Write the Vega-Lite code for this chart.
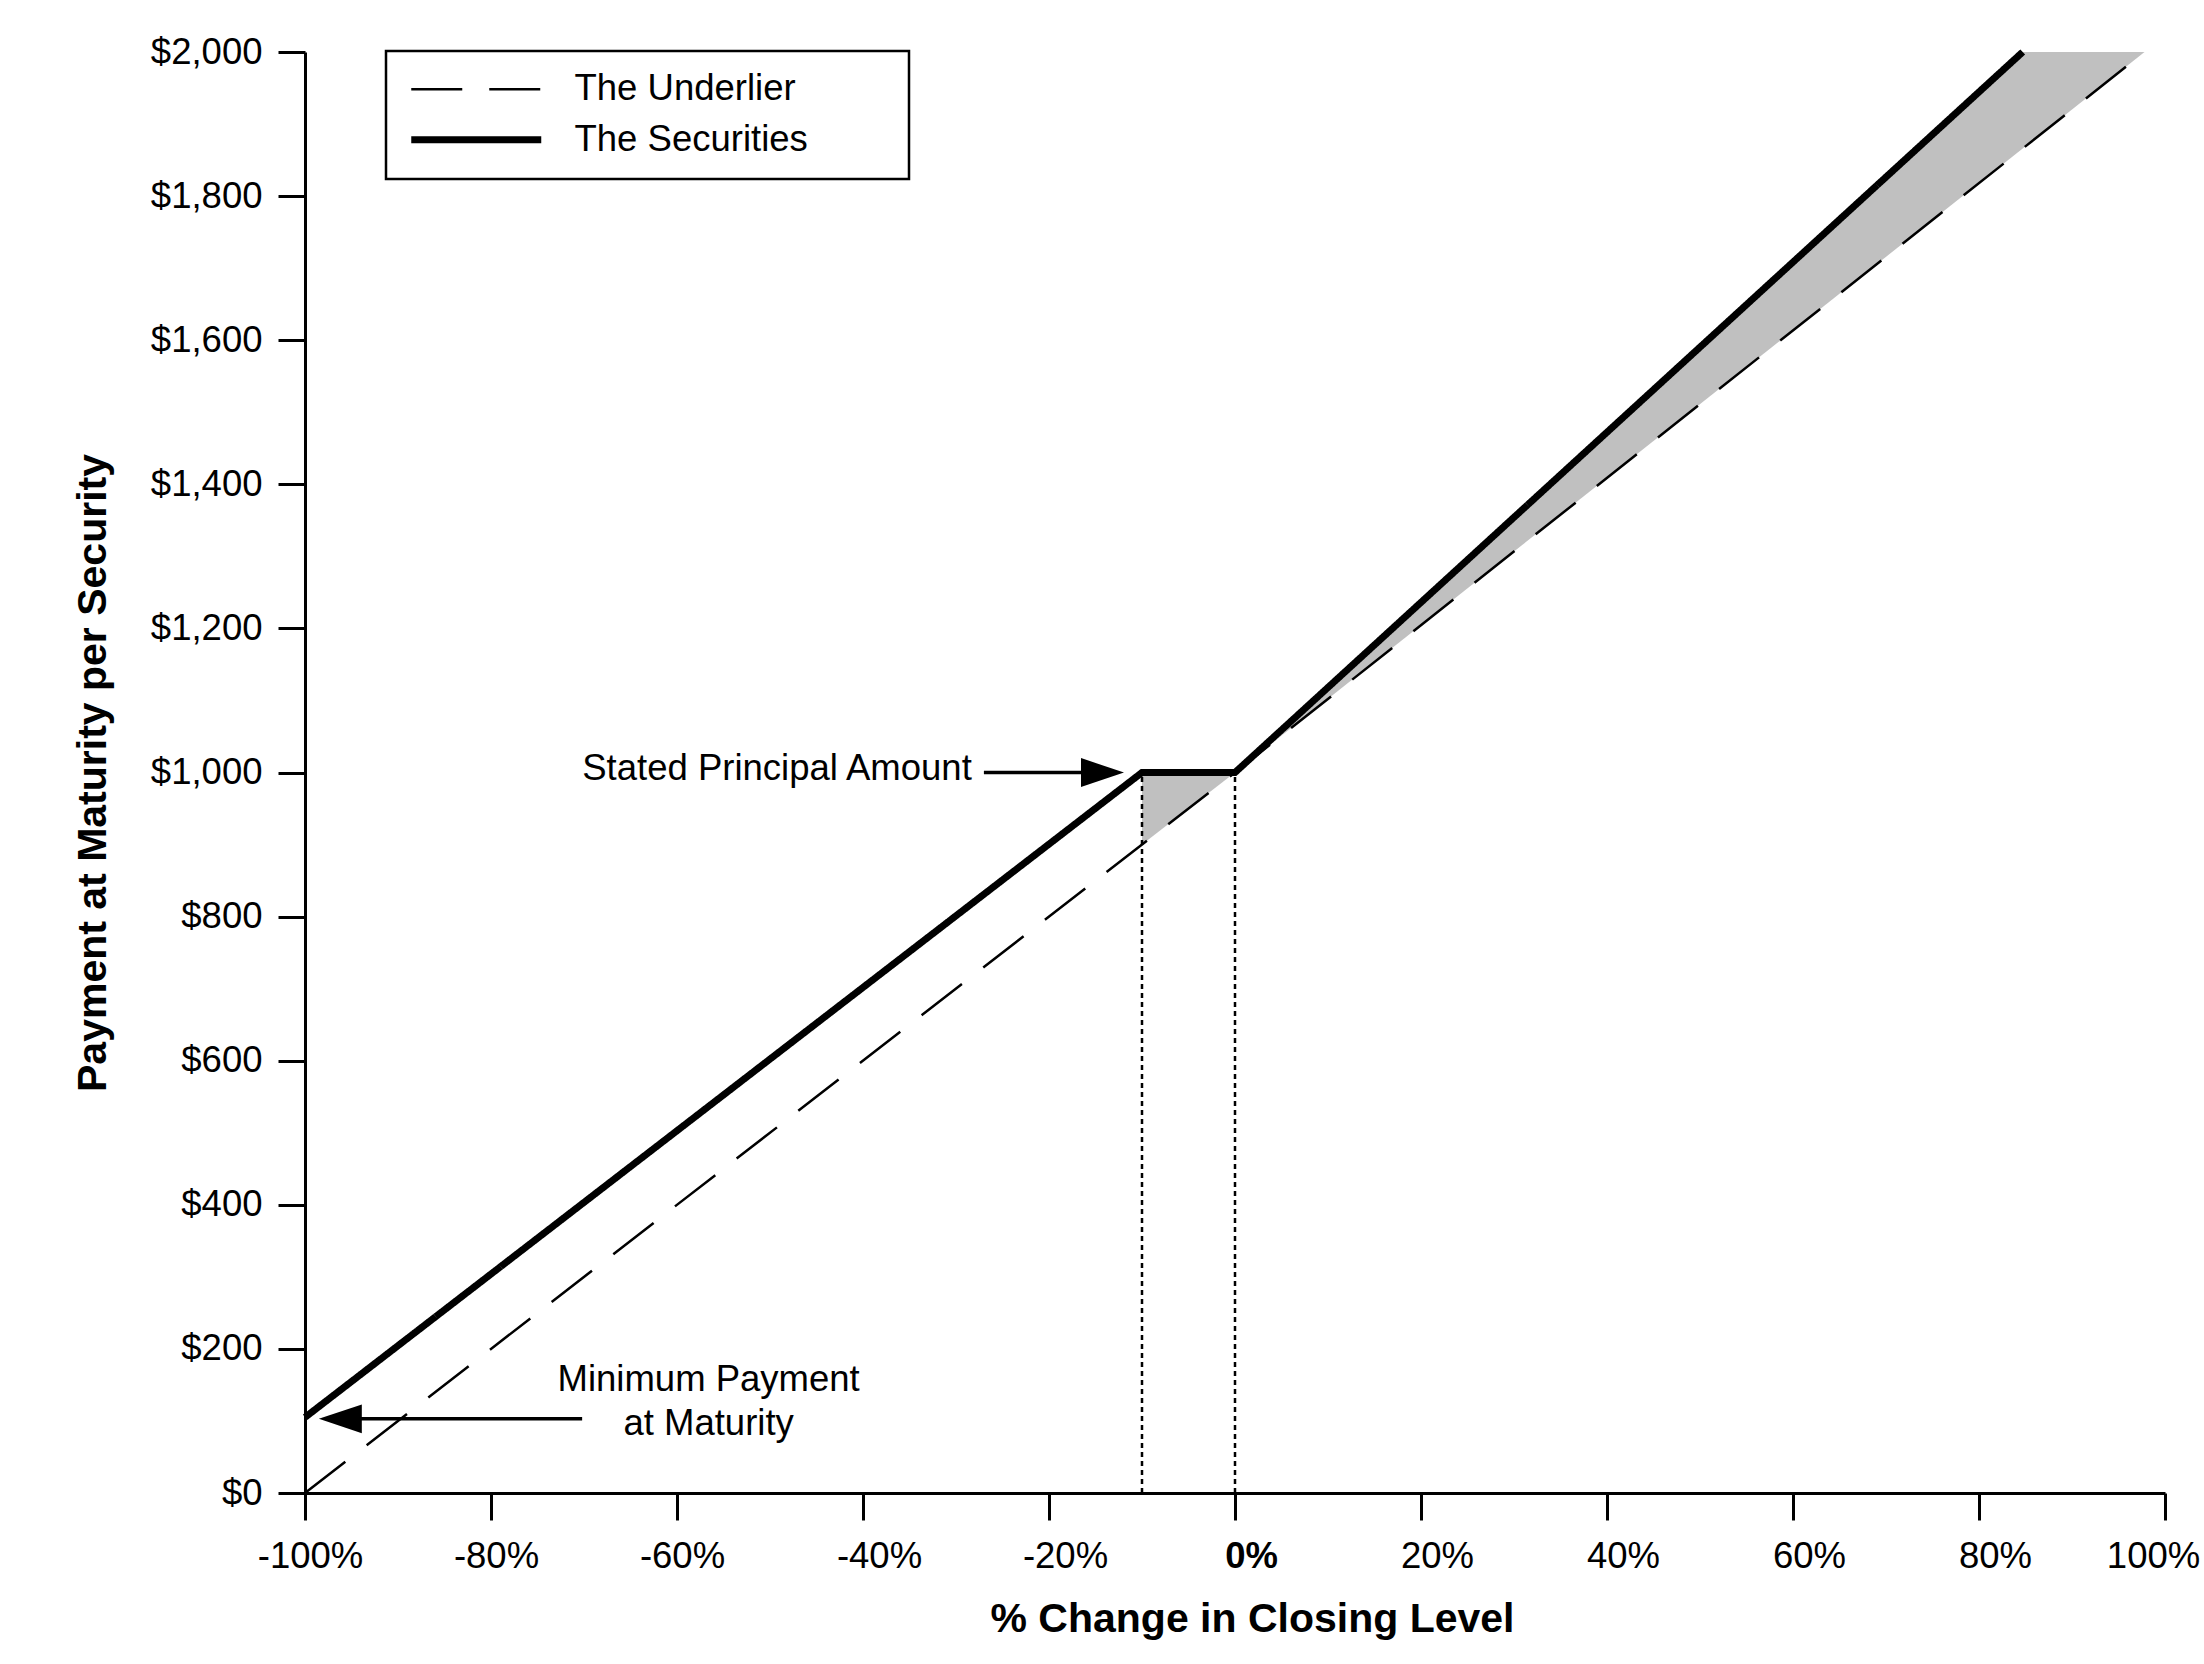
{
  "$schema": "https://vega.github.io/schema/vega-lite/v6.json",
  "width": 1860,
  "height": 1441,
  "autosize": {"type": "none"},
  "padding": {"left": 305, "top": 52, "right": 39, "bottom": 171},
  "background": "white",
  "config": {
    "view": {"stroke": null},
    "font": "Liberation Sans",
    "legend": {"strokeWidth": 2.5}
  },
  "datasets": {
    "lines": [
      {"series": "The Underlier", "x": -100, "y": 0},
      {"series": "The Underlier", "x": 0, "y": 1000},
      {"series": "The Underlier", "x": 97.8, "y": 2000},
      {"series": "The Securities", "x": -100, "y": 105},
      {"series": "The Securities", "x": -10, "y": 1000},
      {"series": "The Securities", "x": 0, "y": 1000},
      {"series": "The Securities", "x": 84.7, "y": 2000}
    ],
    "areas": [
      {"part": "buffer", "x": -10, "y": 1000, "y2": 900},
      {"part": "buffer", "x": 0, "y": 1000, "y2": 1000},
      {"part": "upside", "x": 0, "y": 1000, "y2": 1000},
      {"part": "upside", "x": 84.7, "y": 2000, "y2": 1866},
      {"part": "upside", "x": 97.8, "y": 2000, "y2": 2000}
    ],
    "vrules": [
      {"x": -10, "y": 0, "y2": 1000},
      {"x": 0, "y": 0, "y2": 1000}
    ],
    "arrows": [
      {"x": -27.0, "x2": -15, "y": 1000},
      {"x": -70.2, "x2": -95, "y": 103}
    ],
    "headsRight": [{"x": -14.25, "y": 1000}],
    "headsLeft": [{"x": -96.2, "y": 103}],
    "labelsRight": [{"x": -28.3, "y": 1005, "text": "Stated Principal Amount"}],
    "labelsCenter": [
      {"x": -56.6, "y": 157, "text": "Minimum Payment"},
      {"x": -56.6, "y": 96, "text": "at Maturity"}
    ]
  },
  "encoding": {
    "x": {
      "field": "x",
      "type": "quantitative",
      "scale": {"domain": [-100, 100], "nice": false, "zero": false},
      "axis": {
        "title": "% Change in Closing Level",
        "values": [-100, -80, -60, -40, -20, 0, 20, 40, 60, 80, 100],
        "labelExpr": "datum.value + '%'",
        "labelFont": "Liberation Sans",
        "labelFontSize": 36.5,
        "labelColor": "black",
        "labelFontWeight": {"condition": {"test": "datum.value === 0", "value": "bold"}, "value": "normal"},
        "labelOffset": {"condition": [{"test": "datum.value === 100", "value": -12}, {"test": "datum.value <= -60", "value": 5}], "value": 16},
        "labelFlush": false,
        "labelOverlap": false,
        "labelPadding": 18,
        "tickSize": 27,
        "tickWidth": 3,
        "tickColor": "black",
        "domainColor": "black",
        "domainWidth": 3,
        "grid": false,
        "titleFont": "Liberation Sans",
        "titleFontSize": 41,
        "titleFontWeight": "bold",
        "titleColor": "black",
        "titlePadding": 25,
        "titleX": 947
      }
    },
    "y": {
      "field": "y",
      "type": "quantitative",
      "scale": {"domain": [0, 2000], "nice": false},
      "axis": {
        "title": "Payment at Maturity per Security",
        "values": [0, 200, 400, 600, 800, 1000, 1200, 1400, 1600, 1800, 2000],
        "labelExpr": "'$' + format(datum.value, ',')",
        "labelFont": "Liberation Sans",
        "labelFontSize": 36.5,
        "labelColor": "black",
        "labelFlush": false,
        "labelOverlap": false,
        "labelPadding": 16,
        "tickSize": 27,
        "tickWidth": 3,
        "tickColor": "black",
        "domainColor": "black",
        "domainWidth": 3,
        "grid": false,
        "titleFont": "Liberation Sans",
        "titleFontSize": 41,
        "titleFontWeight": "bold",
        "titleColor": "black",
        "titlePadding": 36
      }
    }
  },
  "layer": [
    {
      "data": {"name": "areas"},
      "mark": {"type": "area", "color": "#c0c0c0", "opacity": 1},
      "encoding": {
        "y2": {"field": "y2"},
        "detail": {"field": "part", "type": "nominal"}
      }
    },
    {
      "data": {"name": "vrules"},
      "mark": {"type": "rule", "color": "black", "strokeWidth": 2.5, "strokeDash": [5, 4]},
      "encoding": {"y2": {"field": "y2"}}
    },
    {
      "data": {"name": "lines"},
      "mark": {"type": "line", "color": "black", "strokeCap": "butt"},
      "encoding": {
        "strokeDash": {
          "field": "series",
          "type": "nominal",
          "scale": {"domain": ["The Underlier", "The Securities"], "range": [[51, 27], [1, 0]]},
          "legend": {
            "title": null,
            "orient": "none",
            "legendX": 81,
            "legendY": -1,
            "padding": 20,
            "strokeColor": "black",
            "fillColor": "white",
            "symbolType": "M-1,0H9",
            "symbolSize": 676,
            "symbolStrokeColor": "black",
            "labelFont": "Liberation Sans",
            "labelFontSize": 36.5,
            "labelColor": "black",
            "labelOffset": 132,
            "labelLimit": 800,
            "rowPadding": 13.5,
            "labelExpr": "datum.label + '\u2800\u2800\u2800'"
          }
        },
        "strokeWidth": {
          "field": "series",
          "type": "ordinal",
          "scale": {"domain": ["The Underlier", "The Securities"], "range": [2.5, 7]},
          "legend": {
            "title": null,
            "orient": "none",
            "legendX": 81,
            "legendY": -1,
            "padding": 20,
            "strokeColor": "black",
            "fillColor": "white",
            "symbolType": "M-1,0H9",
            "symbolSize": 676,
            "symbolStrokeColor": "black",
            "labelFont": "Liberation Sans",
            "labelFontSize": 36.5,
            "labelColor": "black",
            "labelOffset": 132,
            "labelLimit": 800,
            "rowPadding": 13.5,
            "labelExpr": "datum.label + '\u2800\u2800\u2800'"
          }
        }
      }
    },
    {
      "data": {"name": "arrows"},
      "mark": {"type": "rule", "color": "black", "strokeWidth": 3.5},
      "encoding": {"x2": {"field": "x2"}}
    },
    {
      "data": {"name": "headsRight"},
      "mark": {"type": "point", "shape": "M-1,-0.67L1,0L-1,0.67Z", "filled": true, "color": "black", "opacity": 1, "size": 1849, "strokeWidth": 0}
    },
    {
      "data": {"name": "headsLeft"},
      "mark": {"type": "point", "shape": "M1,-0.67L-1,0L1,0.67Z", "filled": true, "color": "black", "opacity": 1, "size": 1849, "strokeWidth": 0}
    },
    {
      "data": {"name": "labelsRight"},
      "mark": {"type": "text", "align": "right", "baseline": "middle", "font": "Liberation Sans", "fontSize": 36.5, "color": "black"},
      "encoding": {"text": {"field": "text"}}
    },
    {
      "data": {"name": "labelsCenter"},
      "mark": {"type": "text", "align": "center", "baseline": "middle", "font": "Liberation Sans", "fontSize": 36.5, "color": "black"},
      "encoding": {"text": {"field": "text"}}
    }
  ]
}
